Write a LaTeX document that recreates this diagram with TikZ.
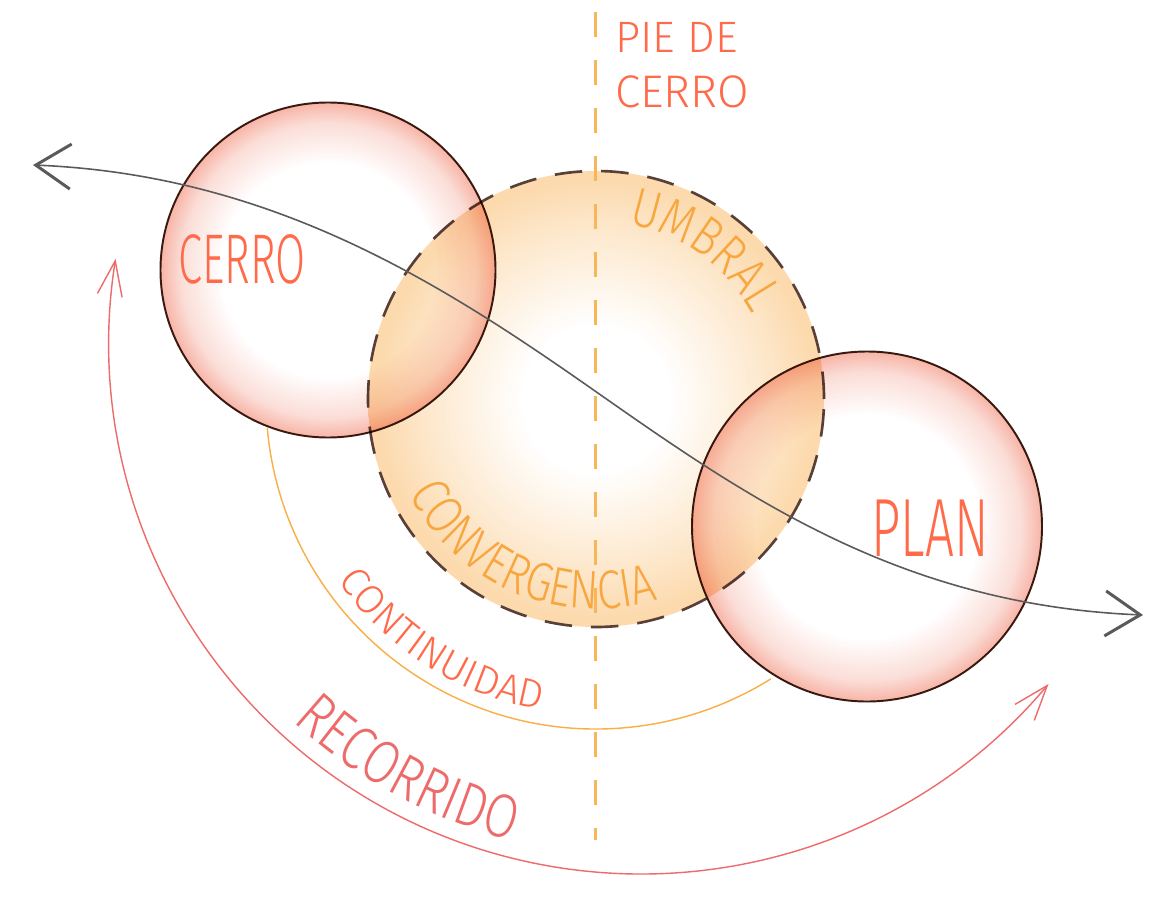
\documentclass[tikz,border=0pt]{standalone}
\usepackage{fontspec}
\usepackage{xcolor}
\usepackage{tikz}
\usetikzlibrary{arrows.meta, positioning, calc, decorations.text}
\IfFontExistsTF{Fira Sans Light}{%
  \newfontfamily\handfont{Fira Sans Light}
  \newfontfamily\handnarrow{Fira Sans Light}[FakeStretch=0.8]
  \newfontfamily\handcond{Fira Sans Light}[FakeStretch=0.62]
}{%
  \newfontfamily\handfont{Fira Sans}
  \newfontfamily\handnarrow{Fira Sans}[FakeStretch=0.8]
  \newfontfamily\handcond{Fira Sans}[FakeStretch=0.62]
}
\definecolor{labelred}{HTML}{FF6A4A}
\definecolor{labelorange}{HTML}{F8A63E}
\definecolor{arcorange}{HTML}{F9AE46}
\definecolor{recred}{HTML}{EE6B6B}
\definecolor{pieline}{HTML}{F8B658}
\definecolor{ejegray}{HTML}{5A5A5A}
\definecolor{pinkedge}{HTML}{F6A898}
\definecolor{orangeedge}{HTML}{FCDAAE}
\definecolor{rimdark}{HTML}{3A1E14}
\pgfdeclareradialshading{pinkglow}{\pgfpoint{0bp}{0bp}}{color(0bp)=(white); color(16bp)=(white); color(22bp)=(pinkedge!45!white); color(25bp)=(pinkedge); color(50bp)=(pinkedge)}
\pgfdeclareradialshading{orangeglow}{\pgfpoint{0bp}{0bp}}{color(0bp)=(white); color(8bp)=(white); color(19bp)=(orangeedge!65!white); color(24bp)=(orangeedge); color(50bp)=(orangeedge)}
\tikzset{
  lobe/.style={circle, inner sep=0pt, line width=1.1pt, draw=rimdark,
               shading=pinkglow, fill opacity=0.85, blend mode=multiply},
  core/.style={circle, inner sep=0pt, shading=orangeglow, draw=rimdark!85,
               line width=1.5pt, dash pattern=on 0.55cm off 0.38cm},
  pie/.style={draw=pieline, line width=1.7pt, dash pattern=on 0.5cm off 0.46cm},
  eje/.style={draw=ejegray, line width=0.9pt,
              arrows={Straight Barb[length=0.7cm,width=0.9cm,line width=1.7pt]-Straight Barb[length=0.7cm,width=0.9cm,line width=1.7pt]}},
  recorrido/.style={draw=recred, line width=0.8pt,
              arrows={Straight Barb[length=0.7cm,width=0.5cm]-Straight Barb[length=0.7cm,width=0.5cm]}},
  continuidad/.style={draw=arcorange, line width=0.8pt},
  tag/.style={inner sep=0pt, text=labelred},
  curvetext/.style={decorate, decoration={text along path, text align=center, text={#1}}},
}
\begin{document}
\begin{tikzpicture}
  \useasboundingbox (0,0) rectangle (23.24,-18.1);
  \fill[white] (0,0) rectangle (23.24,-18.1);

  % umbral y linea de pie de cerro
  \node[core, minimum size=9.12cm] (umbral) at (11.92,-7.98) {};
  \coordinate (pietop) at (11.9,-0.24);
  \coordinate (piebase) at (11.9,-16.8);
  \draw[pie] (pietop) -- (piebase);

  % cerro y plan
  \node[lobe, minimum size=6.7cm] (cerro) at (6.56,-5.40) {};
  \node[lobe, minimum size=7.0cm] (plan) at (17.34,-10.53) {};

  % eje
  \coordinate (ejeW) at (0.66,-3.30);
  \coordinate (ejeC) at (11.9,-7.82);
  \coordinate (ejeE) at (22.86,-12.3);
  \draw[eje] (ejeW) .. controls (5.5,-3.5) and (8.9,-5.72) .. (ejeC)
                   .. controls (14.9,-9.92) and (18.0,-12.1) .. (ejeE);

  % arcos
  \coordinate (recC) at (12.82,-6.84);
  \draw[continuidad] ([shift={(185:6.6)}]umbral.center) arc[start angle=185, end angle=302, radius=6.6];
  \draw[recorrido] ([shift={(171:10.64)}]recC) arc[start angle=171, end angle=320, radius=10.64];

  % textos
  \node[tag, font=\handcond\fontsize{40}{40}\selectfont] (cerrotag) at (4.84,-5.18) {CERRO};
  \node[tag, font=\handcond\fontsize{47}{47}\selectfont] (plantag) at (18.6,-10.56) {PLAN};
  \node[tag, anchor=base west, font=\handfont\fontsize{25}{25}\selectfont] (pie) at (12.3,-1.06) {PIE DE};
  \node[tag, anchor=base west, font=\handfont\fontsize{26}{26}\selectfont] (piecerro) at (12.3,-2.16) {CERRO};
  \path[curvetext={|\handnarrow\fontsize{31}{31}\selectfont\color{labelorange}|UMBRAL}]
    ([shift={(100:3.56)}]umbral.center) arc[start angle=100, end angle=8, radius=3.56];
  \path[curvetext={|\handnarrow\fontsize{31}{31}\selectfont\color{labelorange}|CONVERGENCIA}]
    ([shift={(195:4.2)}]umbral.center) arc[start angle=195, end angle=299, radius=4.2];
  \path[curvetext={|\handfont\fontsize{23}{23}\selectfont\color{labelred}|CONTINUIDAD}]
    ([shift={(205:6.32)}]umbral.center) arc[start angle=205, end angle=270, radius=6.32];
  \path[curvetext={|\handnarrow\fontsize{35}{35}\selectfont\color{recred}|RECORRIDO}]
    ([shift={(220:10.3)}]recC) arc[start angle=220, end angle=263, radius=10.3];
\end{tikzpicture}
\end{document}
